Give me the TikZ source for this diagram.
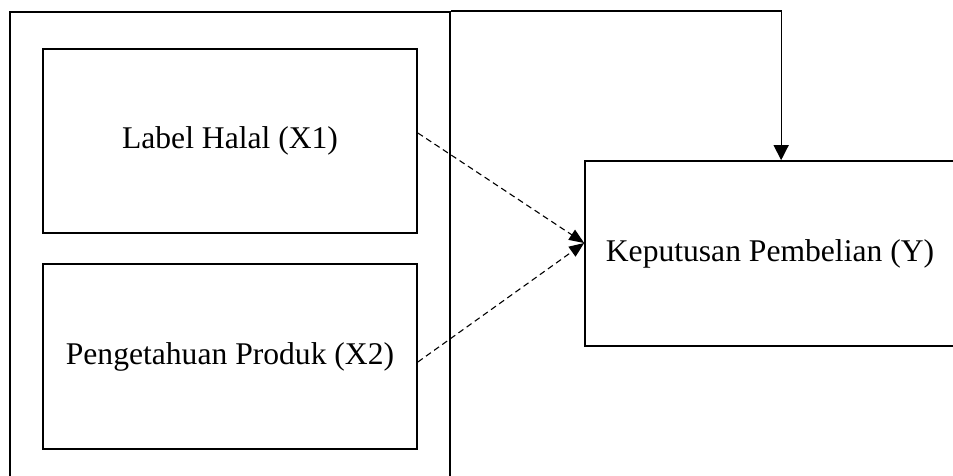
\documentclass[tikz,border=0pt]{standalone}
\usepackage{fontspec}
\setmainfont{Liberation Serif}
\usetikzlibrary{arrows.meta}
\begin{document}
\begin{tikzpicture}[x=1pt,y=-1pt,
  box/.style={draw=black,line width=1.7pt,inner sep=0pt,font=\fontsize{31.6}{38}\selectfont,align=center},
  solidarr/.style={line width=1.3pt,-{Triangle[length=15pt,width=15pt]}},
  dasharr/.style={line width=1.1pt,dash pattern=on 6pt off 4pt,-{Triangle[length=15pt,width=12pt]}}]
\clip (0,0) rectangle (953,476);
\useasboundingbox (0,0) rectangle (953,476);
\node[box,minimum width=440pt,minimum height=480pt] (outer) at (230,252) {};
\node[box,minimum width=374pt,minimum height=184pt] (x1) at (230,141) {Label Halal (X1)};
\node[box,minimum width=374pt,minimum height=185pt] (x2) at (230,356.5) {Pengetahuan Produk (X2)};
\node[box,minimum width=370pt,minimum height=185pt] (y) at (770,253.5) {Keputusan Pembelian (Y)};
\draw[solidarr] (outer.north east) -| ([xshift=197pt]y.north west);
\draw[dasharr] ([yshift=8pt]x1.east) -- ([yshift=10.5pt]y.west);
\draw[dasharr] ([yshift=-5.5pt]x2.east) -- ([yshift=10.5pt]y.west);
\end{tikzpicture}
\end{document}
